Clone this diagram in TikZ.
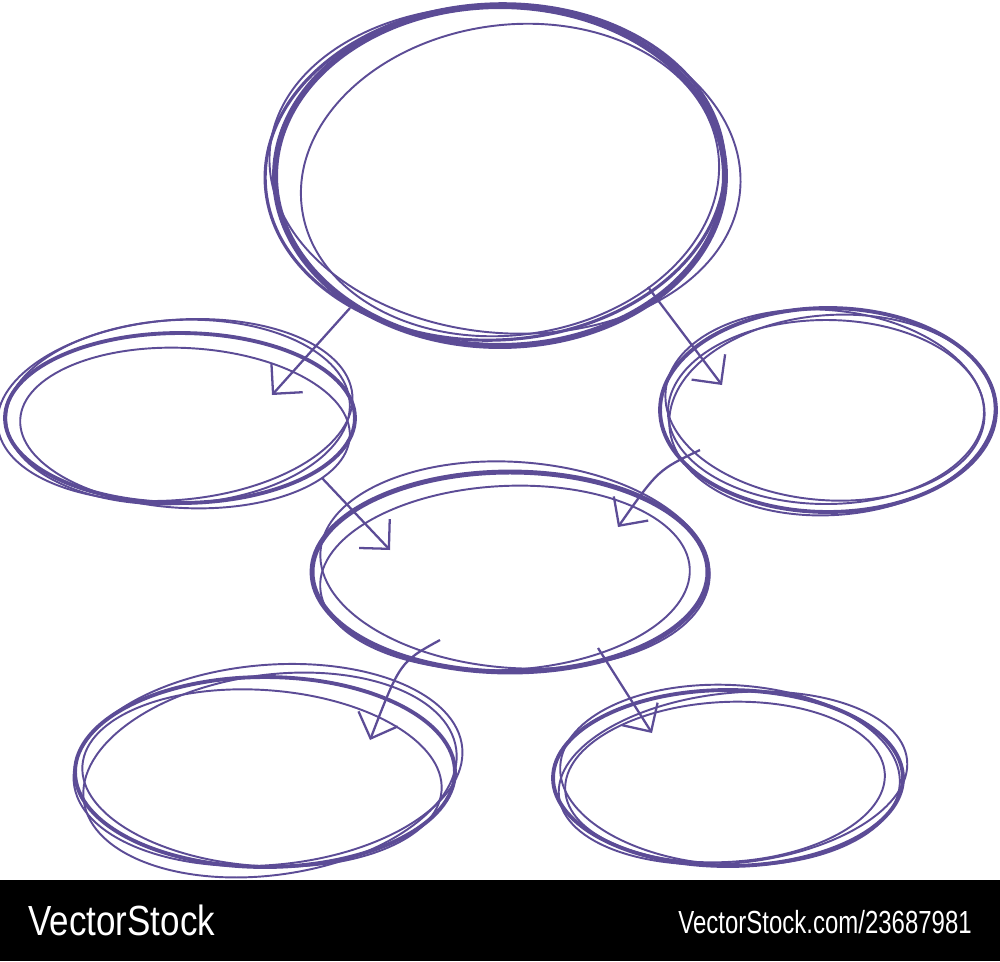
\documentclass[tikz,border=0pt]{standalone}
\usepackage{fontspec}
\setmainfont{Liberation Sans}
\usetikzlibrary{arrows.meta,calc,shapes.geometric}
\definecolor{ink}{RGB}{92,76,150}
\newcommand\drawsk[5]{\draw[sk,#5,rotate around={#4:(#1)}] (#1) ellipse [x radius=#2, y radius=#3];}
\begin{document}
\begin{tikzpicture}[x=0.02cm,y=-0.02cm,
  bub/.style={draw=ink, line width=2.2pt, shape=ellipse, inner sep=0pt},
  sk/.style={draw=ink, line width=1.1pt},
  arr/.style={draw=ink, line width=1.3pt, -{Straight Barb[length=0.42cm,width=0.84cm]}},
  brand/.style={text=white, inner sep=0pt, transform shape}
]
\useasboundingbox (0,0) rectangle (1000,961);
% bubbles
\node[bub, line width=3.4pt, minimum width=9cm, minimum height=6.8cm] (top) at (500,176) {};
\node[bub, minimum width=7cm, minimum height=3.4cm] (left) at (180,418) {};
\node[bub, minimum width=6.72cm, minimum height=4.08cm] (right) at (828,410) {};
\node[bub, line width=2.8pt, minimum width=7.92cm, minimum height=4cm] (mid) at (510,572) {};
\node[bub, minimum width=7.6cm, minimum height=3.8cm] (bl) at (265,772) {};
\node[bub, minimum width=7cm, minimum height=3.52cm] (br) at (728,778) {};
% sketch strokes
\drawsk{505,170}{236}{163}{-5}{}
\drawsk{510,180}{210}{155}{8}{}
\drawsk{495,172}{230}{168}{3}{line width=1.8pt}
\drawsk{178,412}{172}{92}{3}{}
\drawsk{185,428}{165}{80}{-3}{}
\drawsk{175,410}{178}{90}{5}{}
\drawsk{825,405}{160}{95}{-5}{}
\drawsk{832,415}{163}{100}{4}{}
\drawsk{826,412}{158}{92}{0}{}
\drawsk{515,565}{195}{103}{-4}{}
\drawsk{505,578}{185}{92}{3}{}
\drawsk{268,765}{195}{100}{5}{}
\drawsk{262,778}{180}{88}{-4}{}
\drawsk{270,775}{188}{100}{8}{}
\drawsk{730,775}{170}{90}{-3}{}
\drawsk{725,782}{160}{80}{3}{}
\drawsk{733,778}{175}{85}{6}{}
% arrows
\draw[arr] ($(top.center)+(-150,132)$) -- ($(left.center)+(92,-23)$);
\draw[arr] ($(top.center)+(148,111)$) -- ($(right.center)+(-106,-25)$);
\draw[arr] ($(left.center)+(142,60)$) -- ($(mid.center)+(-120,-22)$);
\draw[arr] ($(right.center)+(-128,40)$) .. controls ($(right.center)+(-170,60)$) .. ($(mid.center)+(108,-45)$);
\draw[arr] ($(mid.center)+(-70,68)$) .. controls ($(mid.center)+(-110,90)$) .. ($(bl.center)+(105,-32)$);
\draw[arr] ($(mid.center)+(88,76)$) -- ($(br.center)+(-76,-45)$);
% banner
\fill[black] (0,880) rectangle (1000,961);
\node[brand, anchor=base west, xscale=0.83, font=\fontsize{24}{24}\selectfont] (logo) at (28,935) {VectorStock};
\node[brand, anchor=base east, xscale=0.75, font=\fontsize{18.2}{18.2}\selectfont] (url) at (972,933) {VectorStock.com/23687981};
\end{tikzpicture}
\end{document}
